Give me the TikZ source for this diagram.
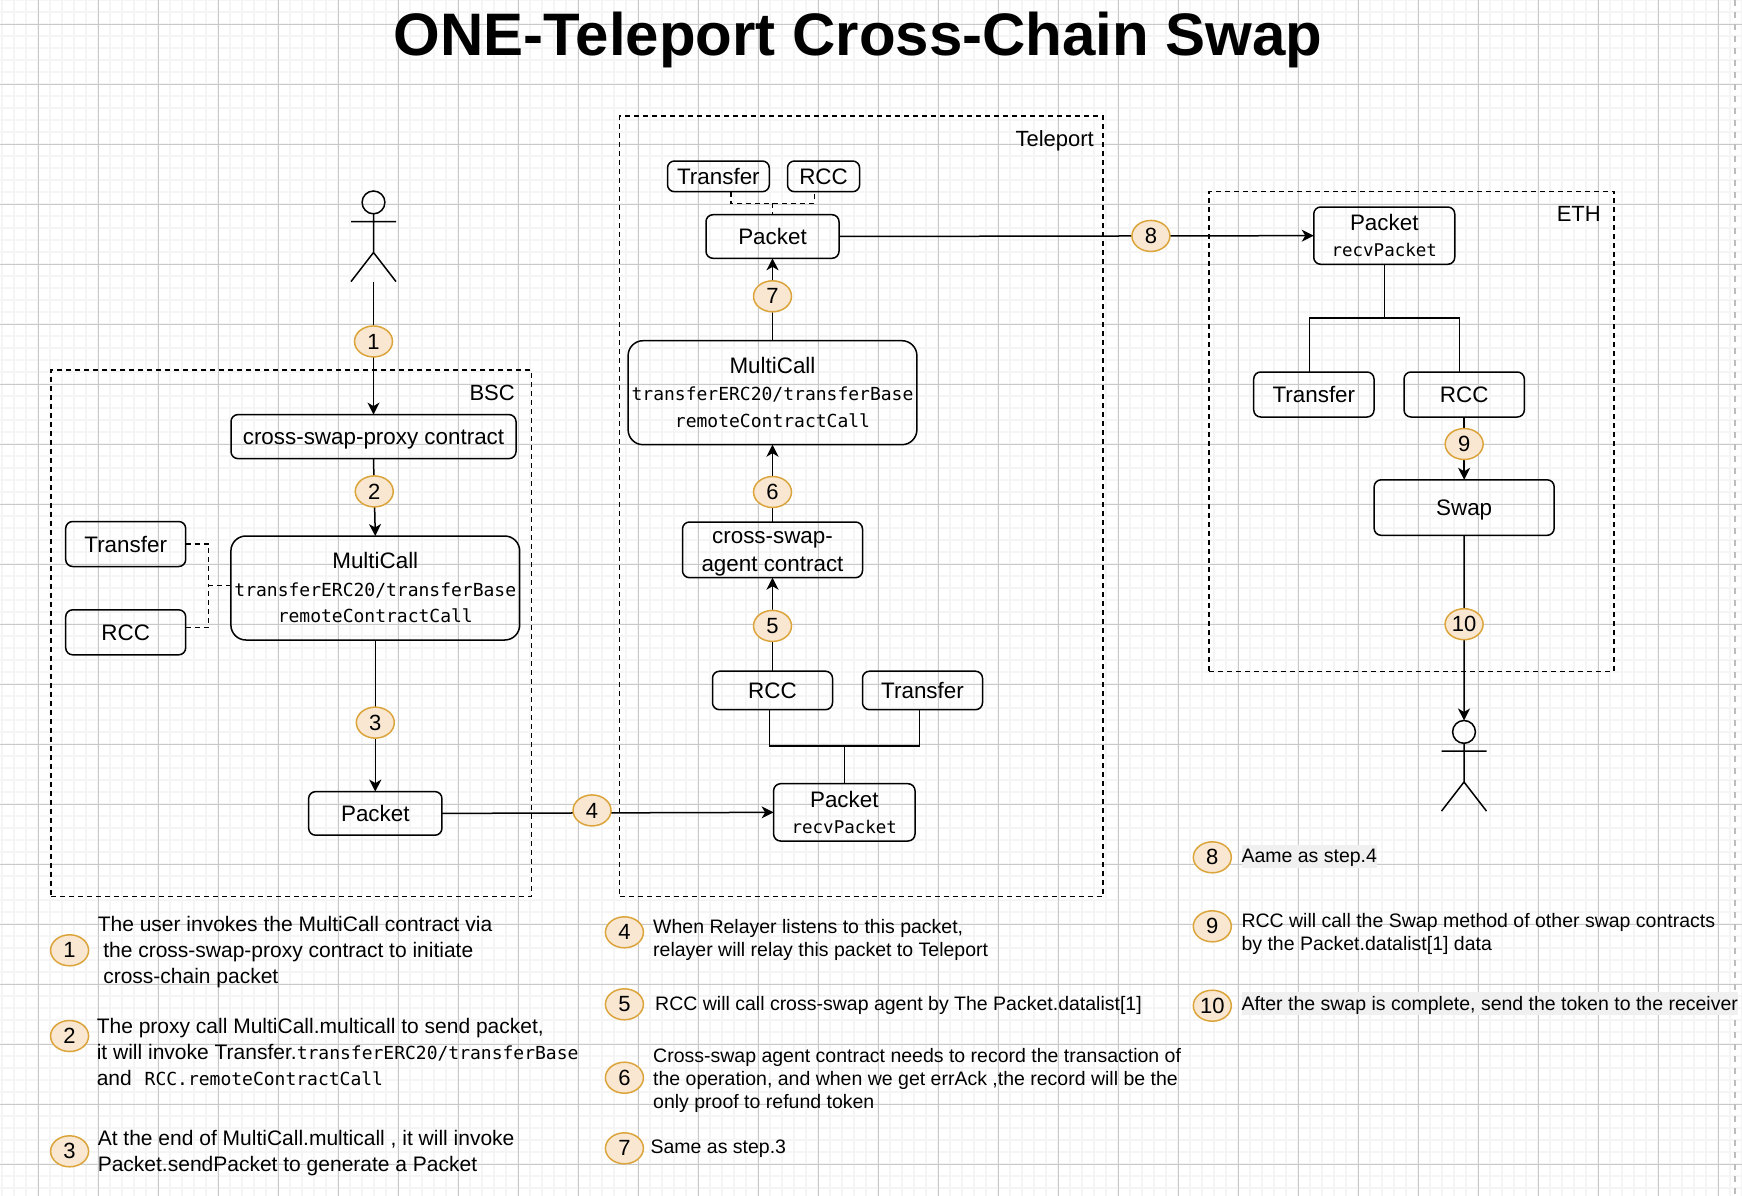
\documentclass[tikz,border=0pt]{standalone}
\usepackage{fontspec}
\setmainfont{Liberation Sans}
\setmonofont{DejaVu Sans Mono}
\definecolor{gridmajor}{HTML}{C9C9C9}
\definecolor{gridminor}{HTML}{F5F5F5}
\definecolor{pageline}{HTML}{BDBDBD}
\definecolor{stepfill}{HTML}{F9E7D2}
\definecolor{stepline}{HTML}{DBA53B}
\definecolor{notefill}{HTML}{F0F0F0}
\usetikzlibrary{arrows.meta,positioning,shapes.geometric}
\newcommand{\boxfont}{\fontsize{22.4}{27.5}\selectfont}
\newcommand{\codefont}{\ttfamily\fontsize{18}{27.5}\selectfont}
\begin{document}
\begin{tikzpicture}[
  x=1pt,y=-1pt,
  box/.style={draw,line width=1.5pt,rounded corners=7pt,align=center,inner sep=0pt,outer sep=0pt,font=\boxfont},
  callbox/.style={box,rounded corners=15pt,minimum width=288.8pt,minimum height=104pt},
  frame/.style={draw,line width=1.5pt,dash pattern=on 5pt off 4pt,anchor=north west,inner sep=0pt,outer sep=0pt},
  grouplabel/.style={inner sep=0pt,font=\fontsize{22}{26}\selectfont},
  arr/.style={-{Stealth[length=12pt,width=12pt,inset=3.5pt]},line width=1.5pt},
  wire/.style={line width=1.5pt},
  dashwire/.style={line width=1.5pt,dash pattern=on 5pt off 4pt},
  badge/.style={ellipse,draw=stepline,fill=stepfill,line width=1.5pt,minimum width=38pt,minimum height=31pt,inner sep=0pt,outer sep=0pt,font=\fontsize{22}{26}\selectfont},
  note/.style={inner sep=0pt,align=left,anchor=west,font=\fontsize{19.5}{23.2}\selectfont},
  noteleft/.style={note,font=\fontsize{21}{25.8}\selectfont},
  actor/.pic={
    \draw[line width=1.5pt] (0,11.4) circle (11.4pt);
    \draw[line width=1.5pt] (0,22.8) -- (0,61.5) (-22.5,30.5) -- (22.5,30.5) (-22.5,90.6) -- (0,61.5) -- (22.5,90.6);
    \coordinate (-top) at (0,0);
    \coordinate (-foot) at (0,90.6);
  }
]
\useasboundingbox (0,0) rectangle (1742,1196);
\foreach \k in {0,...,145} \draw[gridminor,line width=2pt] ({2.4+12*\k},0) -- ({2.4+12*\k},1196);
\foreach \k in {0,...,99} \draw[gridminor,line width=2pt] (0,{0.3+12*\k}) -- (1742,{0.3+12*\k});
\foreach \k in {0,...,28} \draw[gridmajor,line width=1.2pt] ({38.4+60*\k},0) -- ({38.4+60*\k},1196);
\foreach \k in {0,...,19} \draw[gridmajor,line width=1.2pt] (0,{24.3+60*\k}) -- (1742,{24.3+60*\k});
\draw[pageline,line width=2pt,dash pattern=on 6pt off 6pt] (1735,0) -- (1735,1196);

\node[font=\fontsize{60}{66}\bfseries\selectfont,inner sep=0pt] (title) at (858,39.5) {ONE-Teleport Cross-Chain Swap};

\node[frame,minimum width=480.4pt,minimum height=526.5pt] (bsc) at (51,370) {};
\node[frame,minimum width=483.4pt,minimum height=780.3pt] (teleport) at (619.6,116) {};
\node[frame,minimum width=404.8pt,minimum height=479.8pt] (eth) at (1209.2,191.5) {};
\node[grouplabel,below left=15pt and 16.4pt of bsc.north east] (bsclabel) {BSC};
\node[grouplabel,below left=14.5pt and 9pt of teleport.north east] (teleportlabel) {Teleport};
\node[grouplabel,below left=15pt and 13pt of eth.north east] (ethlabel) {ETH};

\pic (user) at (373.5,191) {actor};
\node[box,text height=20pt,minimum width=285pt,minimum height=44pt] (proxy) at (373.5,436.6) {cross-swap-proxy contract};
\node[callbox,below=77.4pt of proxy,xshift=1.8pt] (multibsc) {MultiCall\\{\codefont transferERC20/transferBase}\\[-1pt]{\codefont remoteContractCall}};
\node[box,minimum width=133.3pt,minimum height=43.6pt,below=151.6pt of multibsc] (pktbsc) {Packet};
\node[box,minimum width=120pt,minimum height=45pt,left=45.2pt of multibsc,yshift=44pt] (tfrbsc) {Transfer};
\node[box,minimum width=120pt,minimum height=45pt,below=43.3pt of tfrbsc] (rccbsc) {RCC};
\coordinate[left=22.5pt of multibsc.west,yshift=2.5pt] (busbsc);

\node[box,minimum width=133pt,minimum height=43.6pt] (pkttp) at (772.5,236.5) {Packet};
\node[box,minimum width=101.8pt,minimum height=30.7pt,above=23pt of pkttp,xshift=-54.1pt] (tfrtop) {Transfer};
\node[box,minimum width=72.1pt,minimum height=30.7pt,right=18.2pt of tfrtop] (rcctop) {RCC};
\coordinate[above=11.4pt of pkttp] (jointtop);
\node[callbox,below=82.4pt of pkttp] (multitp) {MultiCall\\[-.5pt]{\codefont transferERC20/transferBase}\\[-1pt]{\codefont remoteContractCall}};
\node[box,minimum width=180pt,minimum height=55.7pt,below=77.3pt of multitp] (agent) {\fontsize{22.4}{26.7}\selectfont\rule{0pt}{20pt}cross-swap-\\agent contract};
\node[box,minimum width=120pt,minimum height=38.5pt,below=93.5pt of agent] (rcctp) {RCC};
\node[box,minimum width=120pt,minimum height=38.5pt,right=30pt of rcctp] (tfrtp) {Transfer};
\node[box,minimum width=141.4pt,minimum height=57.3pt,below=74pt of rcctp,xshift=71.8pt] (recvtp) {Packet\\[-1.5pt]{\codefont\fontsize{17.5}{27.5}\selectfont recvPacket}};
\coordinate[above=37.7pt of recvtp] (jointtp);

\node[box,minimum width=141pt,minimum height=57.3pt] (recveth) at (1384.25,235.65) {Packet\\[-1.5pt]{\codefont\fontsize{17.5}{27.5}\selectfont recvPacket}};
\node[box,minimum width=120.3pt,minimum height=45pt,below=107.7pt of recveth,xshift=-70.4pt] (tfreth) {Transfer};
\node[box,minimum width=120.3pt,minimum height=45pt,right=30pt of tfreth] (rcceth) {RCC};
\node[box,text depth=-2pt,minimum width=180pt,minimum height=55.5pt,below=62.8pt of rcceth] (swap) {Swap};
\coordinate[below=53.7pt of recveth] (jointeth);
\pic (receiver) at (1464,720.5) {actor};

\draw[dashwire] (tfrbsc.east) -| (busbsc);
\draw[dashwire] ([yshift=5pt]rccbsc.east) -| (busbsc);
\draw[dashwire] (busbsc) -- (busbsc -| multibsc.west);
\draw[dashwire] ([xshift=12.6pt]tfrtop.south) |- (jointtop) -| ([xshift=-9pt]rcctop.south);
\draw[dashwire] (jointtop) -- (pkttp.north);
\draw[wire] ([xshift=-3pt]rcctp.south) |- (jointtp) -| ([xshift=-3pt]tfrtp.south);
\draw[wire] (jointtp) -- (recvtp.north);
\draw[wire] ([xshift=-4.3pt]tfreth.north) |- (jointeth) -| ([xshift=-4.7pt]rcceth.north);
\draw[wire] (jointeth) -- (recveth.south);

\draw[arr] (user-foot) -- node[badge,pos=.45] (st1) {1} (proxy.north);
\draw[arr] (proxy.south) -- node[badge,pos=.424] (st2) {2} (multibsc.north);
\draw[arr] (multibsc.south) -- node[badge,pos=.545] (st3) {3} (pktbsc.north);
\draw[arr] (pktbsc.east) -- node[badge,pos=.4525,yshift=2.5pt] (st4) {4} (recvtp.west);
\draw[arr] (rcctp.north) -- node[badge,pos=.484] (st5) {5} (agent.south);
\draw[arr] (agent.north) -- node[badge,pos=.388] (st6) {6} (multitp.south);
\draw[arr] (multitp.north) -- node[badge,pos=.539] (st7) {7} (pkttp.south);
\draw[arr] (pkttp.east) -- node[badge,pos=.657] (st8) {8} (recveth.west);
\draw[arr] (rcceth.south) -- node[badge,pos=.43] (st9) {9} (swap.north);
\draw[arr] (swap.south) -- node[badge,pos=.48] (st10) {10} (receiver-top);

\node[badge] (leg1) at (69.6,950.3) {1};
\node[badge] (leg2) at (69.6,1036) {2};
\node[badge] (leg3) at (69.6,1151.3) {3};
\node[badge] (leg4) at (624.4,932.3) {4};
\node[badge] (leg5) at (624.4,1004.3) {5};
\node[badge] (leg6) at (624.4,1077.7) {6};
\node[badge] (leg7) at (624.4,1148.3) {7};
\node[badge] (leg8) at (1212.3,857.3) {8};
\node[badge] (leg9) at (1212.3,926.3) {9};
\node[badge] (leg10) at (1212.3,1005.7) {10};

\node[noteleft,right=9pt of leg1,yshift=-2pt] (note1) {The user invokes the MultiCall contract via\\\hspace*{5.5pt}the cross-swap-proxy contract to initiate\\\hspace*{5.5pt}cross-chain packet};
\node[noteleft,right=8pt of leg2,yshift=-16pt] (note2) {The proxy call MultiCall.multicall to send packet,\\it will invoke Transfer.{\codefont transferERC20/transferBase}\\and {\codefont\hspace*{7pt}RCC.remoteContractCall}};
\node[noteleft,right=9pt of leg3,yshift=-2pt] (note3) {At the end of MultiCall.multicall , it will invoke\\Packet.sendPacket to generate a Packet};
\node[note,right=9.6pt of leg4,yshift=-7.7pt] (note4) {When Relayer listens to this packet,\\relayer will relay this packet to Teleport};
\node[note,right=11.6pt of leg5,yshift=-1pt] (note5) {RCC will call cross-swap agent by The Packet.datalist[1]};
\node[note,right=9.6pt of leg6,yshift=-2.5pt] (note6) {Cross-swap agent contract needs to record the transaction of\\the operation, and when we get errAck ,the record will be the\\only proof to refund token};
\node[note,right=7pt of leg7] (note7) {Same as step.3};
\node[note,fill=notefill,text depth=1pt,minimum height=22.5pt,right=10pt of leg8,yshift=1pt] (note8) {Aame as step.4};
\node[note,right=10pt of leg9,yshift=-7.7pt] (note9) {RCC will call the Swap method of other swap contracts\\by the Packet.datalist[1] data};
\node[note,fill=notefill,text depth=1pt,minimum height=22.5pt,right=10pt of leg10,yshift=2pt] (note10) {\makebox[496pt][l]{After the swap is complete, send the token to the receiver}};
\end{tikzpicture}
\end{document}
